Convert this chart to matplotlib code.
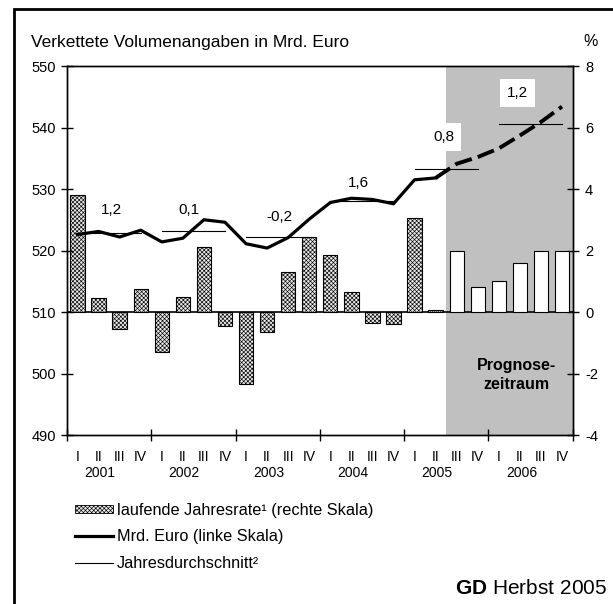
import numpy as np
import matplotlib
matplotlib.use("Agg")
import matplotlib.pyplot as plt
from matplotlib.patches import Patch, Rectangle
from matplotlib.lines import Line2D

plt.rcParams['font.family'] = ['Liberation Sans', 'DejaVu Sans']
plt.rcParams['font.size'] = 10
plt.rcParams['axes.unicode_minus'] = False
plt.rcParams['mathtext.fontset'] = 'custom'
plt.rcParams['mathtext.rm'] = 'Liberation Sans'
plt.rcParams['mathtext.bf'] = 'Liberation Sans:bold'
plt.rcParams['hatch.color'] = 'black'
plt.rcParams['hatch.linewidth'] = 0.45

# Data
years = ['2001', '2002', '2003', '2004', '2005', '2006']
quarters = ['I', 'II', 'III', 'IV']
# laufende Jahresrate in % (right scale)
rate = [3.8, 0.45, -0.55, 0.75, -1.3, 0.5, 2.1, -0.45,
        -2.35, -0.65, 1.3, 2.45, 1.85, 0.65, -0.35, -0.4,
        3.05, 0.05, 2.0, 0.8, 1.0, 1.6, 2.0, 2.0]
# Mrd. Euro (left scale)
level = [522.6, 523.1, 522.2, 523.3, 521.4, 522.0, 525.0, 524.6,
         521.1, 520.4, 522.1, 525.1, 527.8, 528.5, 528.3, 527.6,
         531.5, 531.8, 534.1, 535.2, 536.6, 538.7, 540.9, 543.4]
# Jahresdurchschnitt and growth labels
year_avg = [522.8, 523.2, 522.2, 528.0, 533.2, 540.5]
year_growth = ['1,2', '0,1', '-0,2', '1,6', '0,8', '1,2']
n_hist = 18          # quarters up to 2005 II are actual values

x = np.arange(len(rate))
pattern = 'xxxxxxxx'

fig = plt.figure(figsize=(6.13, 6.04), dpi=100)
ax = fig.add_axes([0.1093, 0.2798, 0.8247, 0.6109])
ax2 = ax.twinx()

# forecast shading
ax.axvspan(n_hist - 0.5, len(x) - 0.5, color='#c0c0c0', lw=0, zorder=0)
ax.axhline(0, color='black', lw=1.2, zorder=1)

# bars (right scale)
ax.bar(x[:n_hist], rate[:n_hist], width=0.68, facecolor='#e8e8e8',
       edgecolor='black', lw=0.8, hatch=pattern, zorder=2)
ax.bar(x[n_hist:], rate[n_hist:], width=0.68, facecolor='white',
       edgecolor='black', lw=0.8, zorder=2)

# level line (left scale)
ax2.plot(x[:n_hist], level[:n_hist], color='black', lw=2.3, zorder=3)
ax2.plot(x[n_hist - 1:], level[n_hist - 1:], color='black', lw=2.8,
         dashes=(4.5, 1.6), zorder=3)

# annual averages
for k, avg in enumerate(year_avg):
    ax2.plot([4 * k, 4 * k + 3], [avg, avg], color='black', lw=0.8, zorder=4)

# growth labels
lab_x = [1.6, 5.3, 9.6, 13.35, 17.38, 20.9]
lab_y = [526.6, 526.6, 525.5, 530.9, 538.5, 545.6]
for k, (lx, ly, t) in enumerate(zip(lab_x, lab_y, year_growth)):
    box = None
    if k >= 4:
        box = dict(facecolor='white', edgecolor='none', pad=5)
    ax2.text(lx, ly, t, ha='center', va='center', fontsize=11,
             bbox=box, zorder=5)

ax.set_xlim(-0.5, len(x) - 0.5)
ax.set_ylim(-4, 8)
ax2.set_ylim(490, 550)
ax.set_yticks(np.arange(-4, 9, 2))
ax2.set_yticks(np.arange(490, 551, 10))
ax.yaxis.tick_right()
ax2.yaxis.tick_left()
ax.set_xticks(np.arange(-0.5, len(x), 4))
ax.set_xticklabels([])
ax.tick_params(axis='both', direction='inout', length=8, width=1,
               labelsize=10.5, pad=5)
ax2.tick_params(axis='y', direction='inout', length=8, width=1,
                labelsize=10.5, pad=4)
for sp in list(ax.spines.values()) + list(ax2.spines.values()):
    sp.set_linewidth(1)

# quarter and year labels
tr = ax.get_xaxis_transform()
for i in x:
    ax.text(i, -0.06, quarters[i % 4], transform=tr, ha='center',
            va='center', fontsize=10)
for k, y in enumerate(years):
    ax.text(4 * k + 1.07, -0.104, y, transform=tr, ha='center',
            va='center', fontsize=10)

ax.text(n_hist + 2.85, -2.05, 'Prognose-\nzeitraum', ha='center', va='center',
        fontsize=11.5, fontweight='bold', linespacing=1.35, zorder=5)

fig.text(31 / 613, 1 - 42 / 604, 'Verkettete Volumenangaben in Mrd. Euro',
         ha='left', va='center', fontsize=12.5)
fig.text(591 / 613, 1 - 41 / 604, '%', ha='center', va='center',
         fontsize=11.5)

# legend
handles = [Patch(facecolor='#e8e8e8', edgecolor='black', hatch=pattern, lw=0.6),
           Line2D([], [], color='black', lw=2.3),
           Line2D([], [], color='black', lw=0.8)]
labels = ['laufende Jahresrate¹ (rechte Skala)', 'Mrd. Euro (linke Skala)',
          'Jahresdurchschnitt²']
fig.legend(handles, labels, loc='upper left',
           bbox_to_anchor=(75 / 613, 1 - 503 / 604), frameon=False,
           borderpad=0, borderaxespad=0, handlelength=2.35, handleheight=0.4,
           handletextpad=0.25, labelspacing=0.7, fontsize=11.7)

fig.text(607 / 613, 1 - 588 / 604, r'$\mathbf{GD}$ Herbst 2005', ha='right',
         va='center', fontsize=15)

# outer frame
fig.patches.append(Rectangle((14 / 613, -0.1), 1.2, 1.1 - 9 / 604,
                             transform=fig.transFigure, fill=False,
                             edgecolor='black', lw=2))

fig.savefig('out.png', dpi=100)
